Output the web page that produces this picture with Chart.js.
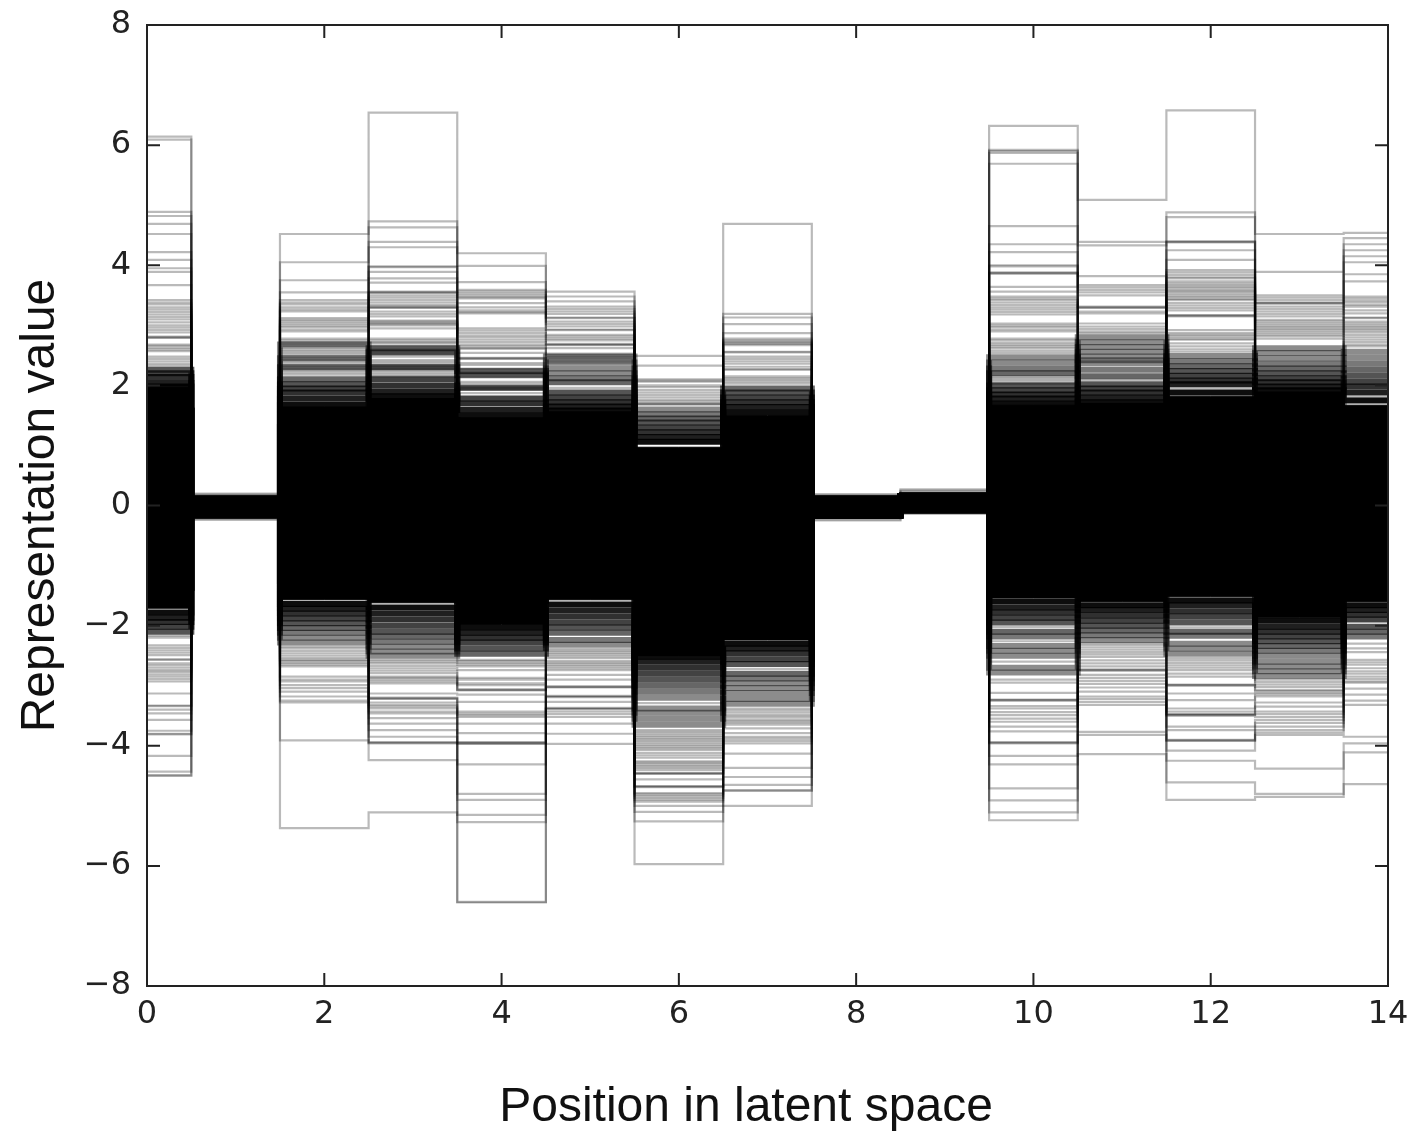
<!DOCTYPE html>
<html>
<head>
<meta charset="utf-8">
<script src="https://cdn.jsdelivr.net/npm/chart.js@4"></script>
<style>
body { margin: 0; background: #fff; }
canvas { display: block; }
</style>
</head>
<body>
<canvas id="latent-chart" width="1412" height="1134"></canvas>
<script>
var positions = [0, 1, 2, 3, 4, 5, 6, 7, 8, 9, 10, 11, 12, 13, 14];

// Solid black part of each column
var coreUpper = [1.97, 0.14, 1.64, 1.78, 1.46, 1.56, 0.97, 1.5, 0.14, 0.2, 1.67, 1.7, 1.82, 1.89, 1.67];
var coreLower = [-1.71, -0.2, -1.57, -1.62, -1.98, -1.57, -2.5, -2.24, -0.21, -0.1, -1.54, -1.6, -1.52, -1.87, -1.6];

// Separate faint levels read per column, outermost first
var thinUpper = [
	[6.14,6.09,4.89,4.82,4.69,4.52,4.22,4.09,3.95,3.89,3.67,3.42,3.38,3.35,3.3,3.26,3.22,3.18,3.14,3.1,3.05,3,2.96,2.92,2.88,2.81,2.8,2.79,2.68,2.66,2.63,2.6,2.57,2.48,2.44,2.4,2.36,2.33],
	[0.2,0.18,0.17],
	[4.52,4.05,3.75,3.55,3.42,3.38,3.35,3.3,3.26,3.23,3.12,3.09,3.06,3.03,3,2.97,2.93,2.9,2.78,2.75,2.72,2.69,2.66,2.63,2.6,2.57,2.54,2.51,2.48,2.45,2.42,2.39,2.36,2.33,2.3,2.27,2.24,2.21,2.18],
	[6.54,4.73,4.63,4.39,4.3,3.98,3.97,3.89,3.78,3.71,3.56,3.55,3.54,3.5,3.46,3.42,3.38,3.34,3.31,3.3,3.29,3.23,3.19,3.15,3.08,3.06,3.04,3.02,3,2.95,2.78,2.75,2.72,2.7,2.66,2.63,2.6,2.57,2.54,2.51,2.48,2.42,2.39,2.36,2.33,2.3,2.27,2.24,2.21,2.18,2.15],
	[4.2,3.99,3.72,3.59,3.56,3.53,3.5,3.47,3.45,3.37,3.3,3.25,3.22,3.2,2.95,2.91,2.87,2.83,2.8,2.76,2.72,2.68,2.65,2.62,2.61,2.54,2.46,2.45,2.44,2.37,2.34,2.28,2.25,2.22,2.19,2.15,2.06,2.03,1.97,1.95,1.93,1.87],
	[3.56,3.48,3.4,3.31,3.27,3.23,3.19,3.13,3.12,3.06,3.02,2.98,2.93,2.92,2.84,2.81,2.78,2.75,2.69,2.68,2.67,2.62,2.53,2.5,2.47,2.44,2.41,2.38,1.96],
	[2.49,2.33,2.1,2.08,2.06,2,1.97,1.92,1.88,1.84,1.8,1.76,1.73,1.7,1.69,1.68],
	[4.69,3.19,3.13,3.02,2.87,2.78,2.75,2.73,2.71,2.69,2.67,2.56,2.55,2.48,2.44,2.4,2.36,2.31,2.27,2.26,2.15,2.12,2.09,2.06,2.03],
	[0.19,0.17],
	[0.27,0.25,0.23],
	[6.32,5.92,5.9,5.87,5.69,4.65,4.35,4.22,4,3.98,3.88,3.87,3.86,3.64,3.56,3.48,3.45,3.42,3.38,3.34,3.3,3.26,3.22,3.18,3.03,3,2.97,2.93,2.9,2.78,2.75,2.71,2.68,2.65,2.62,2.58,2.54,2.15,2.12,2.09,2.06,2.03],
	[5.09,4.39,4.33,3.82,3.67,3.63,3.59,3.55,3.5,3.31,3.3,3.29,3.23,3.2,3.03,2.98,2.94,2.9,2.87,2.09],
	[6.58,4.88,4.8,4.4,4.39,4.38,4.25,4.09,3.92,3.88,3.84,3.8,3.78,3.73,3.7,3.67,3.64,3.61,3.58,3.56,3.53,3.5,3.47,3.44,3.42,3.37,3.33,3.29,3.25,3.17,3.16,3.15,2.92,2.87,2.84,2.81,2.78,2.76,2.7,2.65,2.6,2.56,1.95],
	[4.52,3.89,3.5,3.46,3.42,3.38,3.37,3.36,3.31,3.27,3.23,3.19,3.15,3.09,3.06,3.03,3,2.97,2.94,2.91,2.88,2.85,2.82,2.78],
	[4.54,4.45,4.35,4.25,4.15,4.05,3.85,3.73,3.48,3.45,3.41,3.38,3.34,3.31,3.25,3.2,3.13,3.12,3.06,3.03,3,2.97,2.94,2.91,2.88,2.84,2.8,2.76,2.72,2.68,2.65,1.81]
];
var thinLower = [
	[-4.5,-4.49,-4.43,-4.17,-3.81,-3.8,-3.75,-3.57,-3.46,-3.4,-3.34,-3.33,-3.13,-2.93,-2.89,-2.85,-2.81,-2.77,-2.74,-2.7,-2.66,-2.63,-2.57,-2.56,-2.49,-2.45,-2.41,-2.37,-2.33,-2.2,-2.17],
	[-0.24,-0.22],
	[-5.37,-3.91,-3.28,-3.25,-3.18,-3.1,-3.04,-2.99,-2.93,-2.9,-2.85,-2.68,-2.65,-2.62,-2.59,-2.57,-2.54,-2.5,-2.46,-2.42,-2.38,-2.35],
	[-5.11,-4.24,-3.96,-3.95,-3.94,-3.85,-3.74,-3.63,-3.54,-3.46,-3.43,-3.38,-3.35,-3.32,-3.28,-3.22,-3.21,-3.2,-3.13,-2.96,-2.93,-2.9,-2.87,-2.85,-2.79,-2.75,-2.71,-2.67,-2.63,-2.6,-2.57],
	[-6.61,-6.6,-5.27,-5.15,-4.9,-4.8,-4.31,-3.97,-3.96,-3.95,-3.94,-3.79,-3.63,-3.52,-3.49,-3.46,-3.43,-3.27,-3.15,-3.08,-3.07,-3.06,-2.99,-2.96,-2.9,-2.87,-2.74,-2.68,-2.65,-2.62,-2.59,-2.57],
	[-3.97,-3.8,-3.63,-3.52,-3.47,-3.43,-3.39,-3.38,-3.37,-3.27,-3.19,-3.18,-3.17,-3.03,-3.02,-3.01,-2.9,-2.82,-2.74,-2.71,-2.68,-2.65,-2.62,-2.59,-2.54,-2.51,-2.48,-2.45,-2.42,-2.39],
	[-5.97,-5.26,-5.1,-5,-4.93,-4.9,-4.87,-4.84,-4.81,-4.79,-4.69,-4.68,-4.67,-4.56,-4.47,-4.46,-4.45,-4.4,-4.37,-4.34,-4.31,-4.28,-4.26,-4.2,-4.16,-4.12,-4.07,-4.04,-4.01,-3.98,-3.95,-3.92,-3.89,-3.86,-3.83,-3.8,-3.77,-3.74,-3.29],
	[-5,-4.75,-4.74,-4.65,-4.52,-4.37,-4.13,-3.96,-3.92,-3.88,-3.85,-3.79,-3.71,-3.65,-3.62,-3.59,-3.56,-3.52,-3.49,-3.45,-3.41,-3.38,-2.72],
	[-0.25,-0.23],
	[-0.14,-0.12],
	[-5.24,-5.11,-4.91,-4.71,-4.31,-4.17,-3.96,-3.95,-3.94,-3.76,-3.68,-3.6,-3.55,-3.49,-3.44,-3.38,-3.34,-3.25,-3.24,-3.23,-3.12,-2.95,-2.9,-2.6,-2.26,-2.02],
	[-4.14,-3.82,-3.77,-3.32,-3.27,-3.22,-3.18,-3.1,-3.03,-2.97,-2.92,-2.87,-2.82,-2.75,-2.74,-2.73,-2.68,-2.63,-2.58,-2.52,-2.48,-2.44,-2.4,-2.36,-2.32,-2.29],
	[-4.9,-4.61,-4.25,-4.08,-3.92,-3.91,-3.9,-3.74,-3.68,-3.5,-3.49,-3.48,-3.47,-3.43,-3.38,-3.24,-3.13,-3,-2.99,-2.98,-2.85,-2.8,-2.74,-2.7,-2.66,-2.62,-2.58,-2.54,-2.03],
	[-4.85,-4.8,-4.38,-3.82,-3.78,-3.74,-3.68,-3.62,-3.57,-3.52,-3.47,-3.43,-3.35,-3.28,-3.18,-3.15,-3.12,-3.09,-3.07,-3.02,-2.98,-2.94,-2.9],
	[-4.64,-4.11,-3.96,-3.85,-3.32,-3.25,-3.15,-3.05,-2.95,-2.93,-2.89,-2.85,-2.8,-2.76,-2.71,-2.65,-2.61,-2.57,-2.44,-2.38,-2.3]
];

// Dark bands next to the core, where the separate lines run together (outermost first)
var denseUpper = [
	[2.26,2.2,2.14,2.04,1.98],
	[],
	[2.68,2.45,2.3,2.1,2.02,1.95,1.88,1.78,1.68],
	[2.62,2.55,2.3,2.1,2,1.9,1.82],
	[2.24,2.17,1.96,1.78,1.7,1.59,1.5],
	[2.48,2.38,2.28,2.2,2.12,2.05,1.88,1.8,1.72,1.65,1.58],
	[1.6,1.52,1.45,1.38,1.3,1.22,1.14,1.06],
	[1.95,1.88,1.8,1.72,1.64,1.55],
	[],
	[],
	[2.47,2.38,2.28,2.2,2,1.92,1.85,1.78,1.7],
	[2.8,2.72,2.64,2.56,2.48,2.42,2.37,2.26,2.15,2.02,1.95,1.88,1.8,1.72],
	[2.49,2.4,2.32,2.24,2.16,2.08,2.02,1.88],
	[2.62,2.54,2.45,2.36,2.28,2.2,2.12,2.05,1.98,1.92],
	[2.56,2.46,2.36,2.26,2.16,2.06,1.98,1.88,1.75]
];
var denseLower = [
	[-2.1,-2.02,-1.94,-1.87,-1.78],
	[],
	[-2.28,-2.2,-2.12,-2.04,-1.96,-1.88,-1.8,-1.72,-1.64],
	[-2.5,-2.43,-2.35,-2.27,-2.18,-2.1,-2,-1.9,-1.8,-1.7],
	[-2.47,-2.38,-2.28,-2.2,-2.12,-2.03],
	[-2.32,-2.24,-2.12,-2.03,-1.95,-1.85,-1.75,-1.65],
	[-3.65,-3.55,-3.45,-3.38,-3.2,-3.1,-3,-2.9,-2.8,-2.7,-2.6,-2.52],
	[-3.3,-3.22,-3.12,-3.04,-2.96,-2.88,-2.8,-2.64,-2.56,-2.46,-2.38,-2.3],
	[],
	[],
	[-2.78,-2.7,-2.5,-2.42,-2.34,-2.18,-2.1,-1.95,-1.87,-1.78,-1.7,-1.6],
	[-2.24,-2.16,-2.08,-2,-1.92,-1.83,-1.74,-1.66],
	[-2.47,-2.38,-2.3,-2.17,-2.1,-1.95,-1.85,-1.76,-1.66,-1.58],
	[-2.84,-2.76,-2.68,-2.6,-2.5,-2.42,-2.34,-2.26,-2.18,-2.1,-2.02,-1.92],
	[-2.18,-2.1,-2.02,-1.9,-1.82,-1.74,-1.66]
];

var xAxis_label = 'Position in latent space';
var yAxis_label = 'Representation value';

function core_dataset(values, fill) {
	return {
		data: positions.map(function(p, i) { return { x: p, y: values[i] }; }),
		borderColor: '#000',
		backgroundColor: '#000',
		borderWidth: 1,
		stepped: 'middle',
		pointRadius: 0,
		fill: fill
	};
}

function longest(levels) {
	return Math.max.apply(null, levels.map(function(l) { return l.length; }));
}

// One stepped line per rank: each column gives its k-th level, or drops into the core
function thin_datasets(levels, core) {
	var out = [];
	for (var k = 0; k < longest(levels); k++) {
		out.push({
			data: positions.map(function(p, i) {
				return { x: p, y: k < levels[i].length ? levels[i][k] : core[i] * 0.97 };
			}),
			borderColor: 'rgba(0,0,0,0.27)',
			borderWidth: 2.2,
			stepped: 'middle',
			pointRadius: 0,
			fill: false
		});
	}
	return out;
}

// Dense levels are ranked from the core outward and get lighter the further out they lie
function dense_datasets(levels, core) {
	var out = [];
	for (var k = 0; k < longest(levels); k++) {
		out.push({
			data: positions.map(function(p, i) {
				var n = levels[i].length;
				return { x: p, y: k < n ? levels[i][n - 1 - k] : core[i] * 0.8 };
			}),
			borderColor: 'rgba(0,0,0,' + Math.max(0.45, 0.95 - 0.07 * k) + ')',
			borderWidth: 6,
			stepped: 'middle',
			pointRadius: 0,
			fill: false
		});
	}
	return out;
}

// Classic frame with inward ticks on all four sides, and the off-centre x label
var framePlugin = {
	id: 'frame',
	afterDatasetsDraw: function(chart) {
		var ctx = chart.ctx, a = chart.chartArea, tl = 13;
		ctx.save();
		ctx.strokeStyle = '#222';
		ctx.lineWidth = 2;
		ctx.strokeRect(a.left, a.top, a.right - a.left, a.bottom - a.top);
		ctx.beginPath();
		chart.scales.x.ticks.forEach(function(t, i) {
			var px = chart.scales.x.getPixelForTick(i);
			ctx.moveTo(px, a.bottom); ctx.lineTo(px, a.bottom - tl);
			ctx.moveTo(px, a.top); ctx.lineTo(px, a.top + tl);
		});
		chart.scales.y.ticks.forEach(function(t, i) {
			var py = chart.scales.y.getPixelForTick(i);
			ctx.moveTo(a.left, py); ctx.lineTo(a.left + tl, py);
			ctx.moveTo(a.right, py); ctx.lineTo(a.right - tl, py);
		});
		ctx.stroke();
		ctx.font = '48px "Liberation Sans"';
		ctx.fillStyle = '#111';
		ctx.textAlign = 'center';
		ctx.textBaseline = 'middle';
		ctx.fillText(xAxis_label, 746, 1108);
		ctx.restore();
	}
};

var aDatasets = [ core_dataset(coreUpper, '+1'), core_dataset(coreLower, false) ]
	.concat(dense_datasets(denseUpper, coreUpper))
	.concat(dense_datasets(denseLower, coreLower))
	.concat(thin_datasets(thinUpper, coreUpper))
	.concat(thin_datasets(thinLower, coreLower));

var tickFont = { family: '"DejaVu Sans"', size: 32 };
var titleFont = { family: '"Liberation Sans"', size: 48 };

new Chart(document.getElementById('latent-chart'), {
	type: 'line',
	data: { datasets: aDatasets },
	plugins: [ framePlugin ],
	options: {
		responsive: false,
		animation: false,
		devicePixelRatio: 1,
		layout: { padding: { top: 25, right: 24, left: 0, bottom: 0 } },
		plugins: { legend: { display: false }, tooltip: { enabled: false } },
		scales: {
			x: {
				type: 'linear', min: 0, max: 14,
				grid: { display: false },
				border: { display: false },
				afterFit: function(s) { s.height = 148; s.paddingLeft = 0; s.paddingRight = 0; },
				ticks: { stepSize: 2, font: tickFont, color: '#222', padding: 1, maxRotation: 0, autoSkip: false }
			},
			y: {
				type: 'linear', min: -8, max: 8,
				grid: { display: false },
				border: { display: false },
				afterFit: function(s) { s.width = 147; s.paddingTop = 0; s.paddingBottom = 0; },
				ticks: {
					stepSize: 2, font: tickFont, color: '#222', padding: 8,
					callback: function(v) { return v < 0 ? '\u2212' + Math.abs(v) : '' + v; }
				},
				title: { display: true, text: yAxis_label, font: titleFont, color: '#111', padding: { top: 12, bottom: 0 } }
			}
		}
	}
});
</script>
</body>
</html>
